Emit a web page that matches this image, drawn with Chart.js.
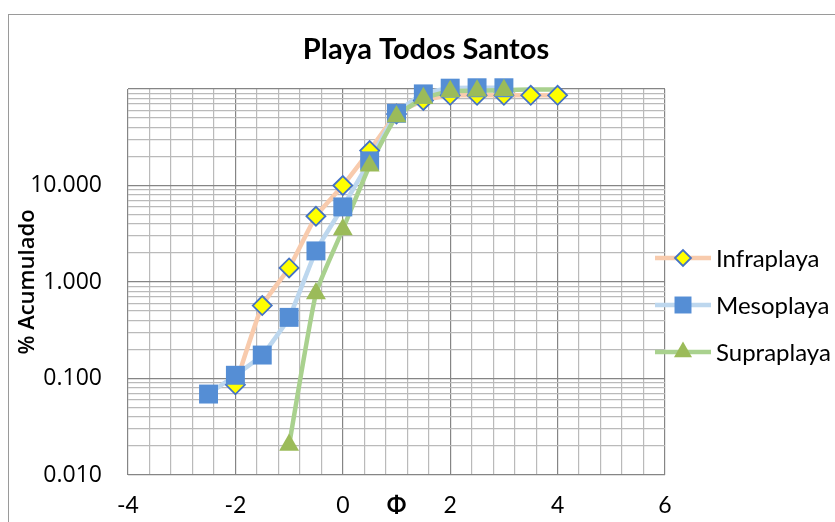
<!DOCTYPE html>
<html>
<head>
<meta charset="utf-8">
<script src="https://cdn.jsdelivr.net/npm/chart.js@4.4.1/dist/chart.umd.min.js"></script>
<style>
  html, body { margin: 0; padding: 0; background: #fff; }
  #wrap { position: relative; width: 835px; height: 522px; overflow: hidden; }
  #frame { position: absolute; left: 8px; top: 14px; width: 900px; height: 600px;
           border-left: 1px solid #9a9a9a; border-top: 1px solid #9a9a9a; }
  canvas { position: absolute; left: 0; top: 0; }
</style>
</head>
<body>
<div id="wrap">
  <div id="frame"></div>
  <canvas id="chart" width="835" height="522"></canvas>
</div>
<script>
// data (phi vs cumulative %)
const phi        = [-2.5, -2, -1.5, -1, -0.5, 0, 0.5, 1, 1.5, 2, 2.5, 3, 3.5, 4];
const infraplaya = [null, 0.086, 0.57, 1.4, 4.8, 10, 23, 55, 76, 86, 86, 86, 86, 86];
const mesoplaya  = [0.069, 0.108, 0.175, 0.43, 2.1, 6.0, 18, 56, 89, 102, 103, 103, null, null];
const supraplaya = [null, null, null, 0.0205, 0.76, 3.5, 16, 52, 80, 95, 96, 97, 99, 99];
const seriesNames = ['Infraplaya', 'Mesoplaya', 'Supraplaya'];

// log axis gridlines: 1..9 in each decade, labels only on decades (not 100)
const yDecades  = [0.01, 0.1, 1, 10];
const ySteps    = [1, 2, 3, 4, 5, 6, 7, 8, 9];
const yMax      = 100;
const xMin = -4, xMax = 6, xStep = 0.4, xLabelEvery = 2;

const lineColors = ['#F8CBAD', '#BDD7EE', '#A9D18E'];
const markers = [
  { style: 'rectRot',  radius: 9.5,  fill: '#FFFF00', stroke: '#4472C4', width: 1.8 },
  { style: 'rect',     radius: 13.4, fill: '#558ED5', stroke: '#558ED5', width: 0 },
  { style: 'triangle', radius: 11.5, fill: '#9BBB59', stroke: '#9BBB59', width: 0 }
];
const MAJOR = '#858585', MINOR = '#bababa';

function points(values) {
  return phi.map((x, i) => ({ x: x, y: values[i] })).filter(p => p.y !== null);
}
const allSeries = [infraplaya, mesoplaya, supraplaya];

const datasets = [];
// lines first (underneath every marker, like Excel)
allSeries.forEach((vals, i) => {
  datasets.push({
    label: seriesNames[i] + ' line',
    data: points(vals),
    borderColor: lineColors[i],
    borderWidth: 4.5,
    pointRadius: 0,
    tension: 0.15,
    clip: false,
    order: 10 - i
  });
});
// then markers
allSeries.forEach((vals, i) => {
  const m = markers[i];
  datasets.push({
    label: seriesNames[i],
    data: points(vals),
    showLine: false,
    pointStyle: m.style,
    // supraplaya has no markers past phi 3 in the reference
    pointRadius: i === 2 ? (c => (c.raw && c.raw.x > 3 ? 0 : m.radius)) : m.radius,
    backgroundColor: m.fill,
    borderColor: m.stroke,
    borderWidth: m.width,
    clip: false,
    order: 3 - i
  });
});

const isDecade = v => Math.abs(Math.log10(v) - Math.round(Math.log10(v))) < 1e-9;
const isXMajor = v => Math.abs(v / xLabelEvery - Math.round(v / xLabelEvery)) < 1e-6;

// title + legend drawn by hand so they can sit where Excel put them
const decor = {
  id: 'decor',
  afterDraw(chart) {
    const ctx = chart.ctx;
    ctx.save();
    ctx.fillStyle = '#000';
    ctx.textBaseline = 'middle';
    ctx.font = 'bold 29px Lato';
    ctx.textAlign = 'center';
    ctx.fillText('Playa Todos Santos', 426, 50);

    const legendY = [258, 305, 352];
    const legendMarkR = [8, 12, 10.4];
    ctx.font = '24px Lato';
    ctx.textAlign = 'left';
    seriesNames.forEach((name, i) => {
      const y = legendY[i];
      ctx.strokeStyle = lineColors[i];
      ctx.lineWidth = 4.5;
      ctx.beginPath(); ctx.moveTo(655, y); ctx.lineTo(711, y); ctx.stroke();
      const m = markers[i];
      ctx.fillStyle = m.fill;
      ctx.strokeStyle = m.stroke;
      ctx.lineWidth = m.width;
      Chart.helpers.drawPoint(ctx, { pointStyle: m.style, radius: legendMarkR[i], rotation: 0, borderWidth: m.width }, 683, y);
      ctx.fillStyle = '#000';
      ctx.fillText(name, 716, y + 1);
    });
    ctx.restore();
  }
};

new Chart(document.getElementById('chart'), {
  type: 'line',
  data: { datasets: datasets },
  plugins: [decor],
  options: {
    responsive: false,
    animation: false,
    events: [],
    layout: { padding: { left: 8, top: 89, right: 170, bottom: 0 } },
    plugins: { legend: { display: false }, tooltip: { enabled: false } },
    scales: {
      x: {
        type: 'linear',
        min: xMin, max: xMax,
        border: { display: false },
        grid: { drawTicks: false, lineWidth: 1.2, color: c => isXMajor(c.tick.value) ? MAJOR : MINOR },
        ticks: {
          stepSize: xStep, autoSkip: false, padding: 17, maxRotation: 0,
          color: '#000', font: { family: 'Lato', size: 23 },
          callback: v => isXMajor(v) ? String(Math.round(v)) : ''
        },
        title: { display: true, text: 'Φ', color: '#000', font: { family: 'Lato', size: 23, weight: 'bold' }, padding: { top: 0, bottom: 3 } },
        afterFit: s => { s.height = 47; }
      },
      y: {
        type: 'logarithmic',
        min: yDecades[0], max: yMax,
        border: { display: false },
        grid: { drawTicks: false, lineWidth: 1.2, color: c => isDecade(c.tick.value) ? MAJOR : MINOR },
        afterBuildTicks: s => {
          const vals = [];
          yDecades.forEach(d => ySteps.forEach(k => vals.push(k === 1 ? d : d * k)));
          vals.push(yMax);
          s.ticks = vals.map(v => ({ value: v }));
        },
        ticks: {
          autoSkip: false, padding: 26,
          color: '#000', font: { family: 'Open Sans', size: 23 },
          callback: v => (yDecades.includes(v) ? v.toFixed(3) : '')
        },
        title: { display: true, text: '% Acumulado', color: '#000', font: { family: 'Open Sans', size: 22, weight: '600' }, padding: { top: 7, bottom: 0 } },
        afterFit: s => { s.width = 120; }
      }
    }
  }
});
</script>
</body>
</html>
